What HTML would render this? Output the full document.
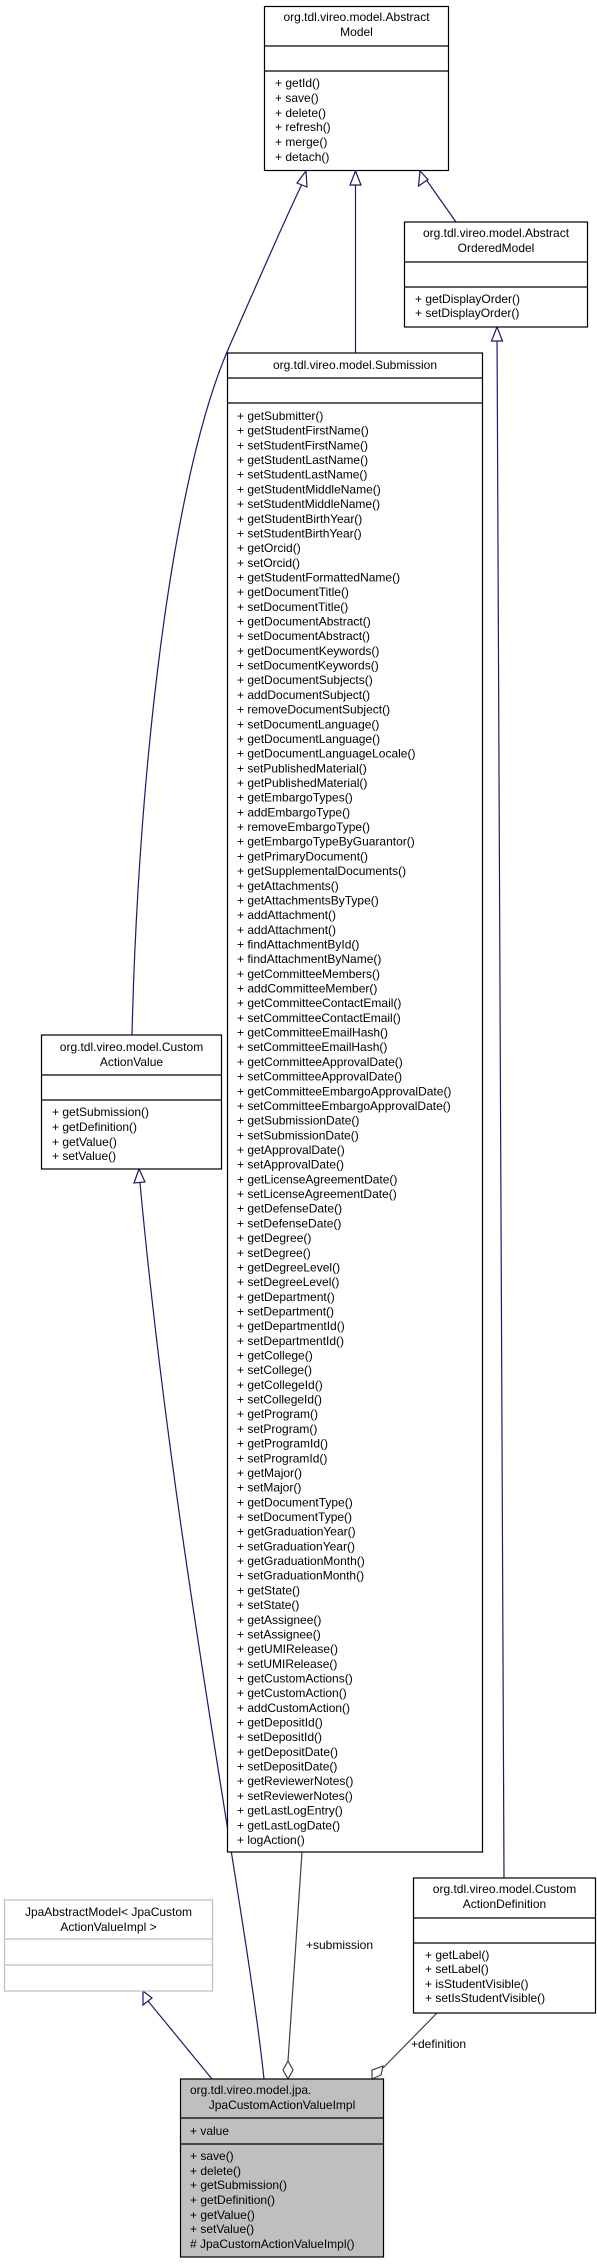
<!DOCTYPE html>
<html><head><meta charset="utf-8"><style>
html,body{margin:0;padding:0;background:#fff;}
svg{display:block;}
text{font-family:"Liberation Sans",Arial,sans-serif;font-size:12px;fill:#000;}
</style></head><body>
<svg width="597" height="2264" viewBox="0 0 597 2264" xmlns="http://www.w3.org/2000/svg">
<g fill="none" stroke="#191970" stroke-width="1.2">
<line x1="355.5" y1="353" x2="355.5" y2="170"/>
<path d="M355.5,171 L350,185 L361,185 Z" fill="#fff"/>
<line x1="456" y1="222" x2="425" y2="178"/>
<path d="M420,171 L418.5,186 L428,179.5 Z" fill="#fff"/>
<path d="M132,1035 C138,780 170,480 230,345 C250,300 280,230 302,184"/>
<path d="M306,171 L297,183 L307,187 Z" fill="#fff"/>
<path d="M497,327 L504,1878"/>
<path d="M497,327 L491.5,341 L502.5,341 Z" fill="#fff"/>
<path d="M264,2079 C245,1900 175,1560 140,1183"/>
<path d="M139,1169 L134,1183 L145,1182 Z" fill="#fff"/>
<line x1="212" y1="2079" x2="148" y2="2001"/>
<path d="M143,1991 L143,2005 L152,1998 Z" fill="#fff"/>
</g>
<g fill="none" stroke="#404040" stroke-width="1.2">
<line x1="302" y1="1852" x2="288" y2="2061"/>
<path d="M288,2079 L283,2070 L288,2061 L293,2070 Z" fill="#fff"/>
<line x1="437" y1="2013" x2="383" y2="2068"/>
<path d="M372,2079 L372,2070 L383,2066 L381,2075 Z" fill="#fff"/>
</g>
<text x="306" y="1949">+submission</text>
<text x="411" y="2048">+definition</text>

<g stroke="#000" stroke-width="1.2" fill="#fff">
<rect x="264.5" y="6.5" width="184" height="164"/>
<line x1="264.5" y1="46" x2="448.5" y2="46"/><line x1="264.5" y1="71" x2="448.5" y2="71"/>
</g>
<text x="356.5" y="21" text-anchor="middle">org.tdl.vireo.model.Abstract</text>
<text x="356.5" y="36" text-anchor="middle">Model</text>
<text x="275" y="87">+ getId()</text><text x="275" y="102">+ save()</text><text x="275" y="117">+ delete()</text>
<text x="275" y="131">+ refresh()</text><text x="275" y="146">+ merge()</text><text x="275" y="161">+ detach()</text>

<g stroke="#000" stroke-width="1.2" fill="#fff">
<rect x="404.5" y="222" width="183" height="105"/>
<line x1="404.5" y1="262" x2="587.5" y2="262"/><line x1="404.5" y1="287" x2="587.5" y2="287"/>
</g>
<text x="496" y="237" text-anchor="middle">org.tdl.vireo.model.Abstract</text>
<text x="496" y="252" text-anchor="middle">OrderedModel</text>
<text x="415" y="303">+ getDisplayOrder()</text><text x="415" y="317">+ setDisplayOrder()</text>

<g stroke="#000" stroke-width="1.2" fill="#fff">
<rect x="227.5" y="353" width="255" height="1499"/>
<line x1="227.5" y1="378" x2="482.5" y2="378"/><line x1="227.5" y1="403" x2="482.5" y2="403"/>
</g>
<text x="355" y="369" text-anchor="middle">org.tdl.vireo.model.Submission</text>
<g>
<text x="237" y="420">+ getSubmitter()</text>
<text x="237" y="434.7">+ getStudentFirstName()</text>
<text x="237" y="449.4">+ setStudentFirstName()</text>
<text x="237" y="464.0">+ getStudentLastName()</text>
<text x="237" y="478.7">+ setStudentLastName()</text>
<text x="237" y="493.4">+ getStudentMiddleName()</text>
<text x="237" y="508.1">+ setStudentMiddleName()</text>
<text x="237" y="522.8">+ getStudentBirthYear()</text>
<text x="237" y="537.4">+ setStudentBirthYear()</text>
<text x="237" y="552.1">+ getOrcid()</text>
<text x="237" y="566.8">+ setOrcid()</text>
<text x="237" y="581.5">+ getStudentFormattedName()</text>
<text x="237" y="596.2">+ getDocumentTitle()</text>
<text x="237" y="610.8">+ setDocumentTitle()</text>
<text x="237" y="625.5">+ getDocumentAbstract()</text>
<text x="237" y="640.2">+ setDocumentAbstract()</text>
<text x="237" y="654.9">+ getDocumentKeywords()</text>
<text x="237" y="669.6">+ setDocumentKeywords()</text>
<text x="237" y="684.2">+ getDocumentSubjects()</text>
<text x="237" y="698.9">+ addDocumentSubject()</text>
<text x="237" y="713.6">+ removeDocumentSubject()</text>
<text x="237" y="728.3">+ setDocumentLanguage()</text>
<text x="237" y="743.0">+ getDocumentLanguage()</text>
<text x="237" y="757.6">+ getDocumentLanguageLocale()</text>
<text x="237" y="772.3">+ setPublishedMaterial()</text>
<text x="237" y="787.0">+ getPublishedMaterial()</text>
<text x="237" y="801.7">+ getEmbargoTypes()</text>
<text x="237" y="816.4">+ addEmbargoType()</text>
<text x="237" y="831.0">+ removeEmbargoType()</text>
<text x="237" y="845.7">+ getEmbargoTypeByGuarantor()</text>
<text x="237" y="860.4">+ getPrimaryDocument()</text>
<text x="237" y="875.1">+ getSupplementalDocuments()</text>
<text x="237" y="889.8">+ getAttachments()</text>
<text x="237" y="904.4">+ getAttachmentsByType()</text>
<text x="237" y="919.1">+ addAttachment()</text>
<text x="237" y="933.8">+ addAttachment()</text>
<text x="237" y="948.5">+ findAttachmentById()</text>
<text x="237" y="963.2">+ findAttachmentByName()</text>
<text x="237" y="977.8">+ getCommitteeMembers()</text>
<text x="237" y="992.5">+ addCommitteeMember()</text>
<text x="237" y="1007.2">+ getCommitteeContactEmail()</text>
<text x="237" y="1021.9">+ setCommitteeContactEmail()</text>
<text x="237" y="1036.6">+ getCommitteeEmailHash()</text>
<text x="237" y="1051.2">+ setCommitteeEmailHash()</text>
<text x="237" y="1065.9">+ getCommitteeApprovalDate()</text>
<text x="237" y="1080.6">+ setCommitteeApprovalDate()</text>
<text x="237" y="1095.3">+ getCommitteeEmbargoApprovalDate()</text>
<text x="237" y="1110.0">+ setCommitteeEmbargoApprovalDate()</text>
<text x="237" y="1124.6">+ getSubmissionDate()</text>
<text x="237" y="1139.3">+ setSubmissionDate()</text>
<text x="237" y="1154.0">+ getApprovalDate()</text>
<text x="237" y="1168.7">+ setApprovalDate()</text>
<text x="237" y="1183.4">+ getLicenseAgreementDate()</text>
<text x="237" y="1198.0">+ setLicenseAgreementDate()</text>
<text x="237" y="1212.7">+ getDefenseDate()</text>
<text x="237" y="1227.4">+ setDefenseDate()</text>
<text x="237" y="1242.1">+ getDegree()</text>
<text x="237" y="1256.8">+ setDegree()</text>
<text x="237" y="1271.4">+ getDegreeLevel()</text>
<text x="237" y="1286.1">+ setDegreeLevel()</text>
<text x="237" y="1300.8">+ getDepartment()</text>
<text x="237" y="1315.5">+ setDepartment()</text>
<text x="237" y="1330.2">+ getDepartmentId()</text>
<text x="237" y="1344.8">+ setDepartmentId()</text>
<text x="237" y="1359.5">+ getCollege()</text>
<text x="237" y="1374.2">+ setCollege()</text>
<text x="237" y="1388.9">+ getCollegeId()</text>
<text x="237" y="1403.6">+ setCollegeId()</text>
<text x="237" y="1418.2">+ getProgram()</text>
<text x="237" y="1432.9">+ setProgram()</text>
<text x="237" y="1447.6">+ getProgramId()</text>
<text x="237" y="1462.3">+ setProgramId()</text>
<text x="237" y="1477.0">+ getMajor()</text>
<text x="237" y="1491.6">+ setMajor()</text>
<text x="237" y="1506.3">+ getDocumentType()</text>
<text x="237" y="1521.0">+ setDocumentType()</text>
<text x="237" y="1535.7">+ getGraduationYear()</text>
<text x="237" y="1550.4">+ setGraduationYear()</text>
<text x="237" y="1565.0">+ getGraduationMonth()</text>
<text x="237" y="1579.7">+ setGraduationMonth()</text>
<text x="237" y="1594.4">+ getState()</text>
<text x="237" y="1609.1">+ setState()</text>
<text x="237" y="1623.8">+ getAssignee()</text>
<text x="237" y="1638.4">+ setAssignee()</text>
<text x="237" y="1653.1">+ getUMIRelease()</text>
<text x="237" y="1667.8">+ setUMIRelease()</text>
<text x="237" y="1682.5">+ getCustomActions()</text>
<text x="237" y="1697.2">+ getCustomAction()</text>
<text x="237" y="1711.8">+ addCustomAction()</text>
<text x="237" y="1726.5">+ getDepositId()</text>
<text x="237" y="1741.2">+ setDepositId()</text>
<text x="237" y="1755.9">+ getDepositDate()</text>
<text x="237" y="1770.6">+ setDepositDate()</text>
<text x="237" y="1785.2">+ getReviewerNotes()</text>
<text x="237" y="1799.9">+ setReviewerNotes()</text>
<text x="237" y="1814.6">+ getLastLogEntry()</text>
<text x="237" y="1829.3">+ getLastLogDate()</text>
<text x="237" y="1844.0">+ logAction()</text>
</g>

<g stroke="#000" stroke-width="1.2" fill="#fff">
<rect x="41.5" y="1035" width="180" height="134"/>
<line x1="41.5" y1="1075" x2="221.5" y2="1075"/><line x1="41.5" y1="1100" x2="221.5" y2="1100"/>
</g>
<text x="131.5" y="1051" text-anchor="middle">org.tdl.vireo.model.Custom</text>
<text x="131.5" y="1066" text-anchor="middle">ActionValue</text>
<text x="52" y="1116">+ getSubmission()</text><text x="52" y="1131">+ getDefinition()</text>
<text x="52" y="1146">+ getValue()</text><text x="52" y="1160">+ setValue()</text>

<g stroke="#000" stroke-width="1.2" fill="#fff">
<rect x="413.5" y="1878" width="182" height="135"/>
<line x1="413.5" y1="1918" x2="595.5" y2="1918"/><line x1="413.5" y1="1943" x2="595.5" y2="1943"/>
</g>
<text x="504.5" y="1893" text-anchor="middle">org.tdl.vireo.model.Custom</text>
<text x="504.5" y="1908" text-anchor="middle">ActionDefinition</text>
<text x="425" y="1959">+ getLabel()</text><text x="425" y="1973">+ setLabel()</text>
<text x="425" y="1988">+ isStudentVisible()</text><text x="425" y="2002">+ setIsStudentVisible()</text>

<g stroke="#bfbfbf" stroke-width="1.2" fill="#fff">
<rect x="4.5" y="1900" width="208" height="91"/>
<line x1="4.5" y1="1939" x2="212.5" y2="1939"/><line x1="4.5" y1="1965" x2="212.5" y2="1965"/>
</g>
<text x="108.5" y="1916" text-anchor="middle">JpaAbstractModel&lt; JpaCustom</text>
<text x="108.5" y="1931" text-anchor="middle">ActionValueImpl &gt;</text>

<g stroke="#000" stroke-width="1.2" fill="#bfbfbf">
<rect x="180.5" y="2079" width="203" height="178"/>
<line x1="180.5" y1="2118" x2="383.5" y2="2118"/><line x1="180.5" y1="2144" x2="383.5" y2="2144"/>
</g>
<text x="190" y="2094">org.tdl.vireo.model.jpa.</text>
<text x="282" y="2109" text-anchor="middle">JpaCustomActionValueImpl</text>
<text x="190" y="2135">+ value</text>
<text x="190" y="2160">+ save()</text><text x="190" y="2175">+ delete()</text>
<text x="190" y="2189">+ getSubmission()</text><text x="190" y="2204">+ getDefinition()</text>
<text x="190" y="2219">+ getValue()</text><text x="190" y="2233">+ setValue()</text>
<text x="190" y="2248"># JpaCustomActionValueImpl()</text>
</svg>
</body></html>
